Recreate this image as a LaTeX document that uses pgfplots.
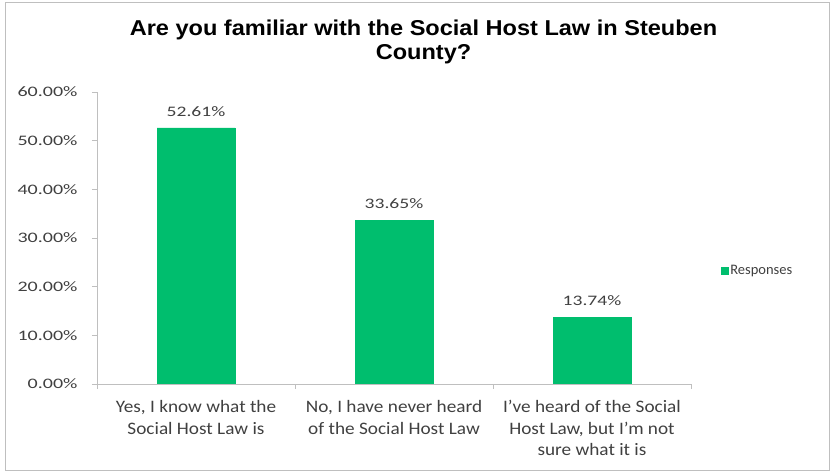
\documentclass[border=0pt]{standalone}
\usepackage{pgfplots}
\pgfplotsset{compat=1.18}
\usepackage{fontspec}
\setmainfont{Carlito}
\newfontfamily\titlefont{Liberation Sans}
\definecolor{bargreen}{RGB}{0,190,110}
\definecolor{axgray}{RGB}{191,191,191}
\definecolor{txtgray}{RGB}{64,64,64}
\begin{document}
\begin{tikzpicture}[x=1pt,y=1pt]
\useasboundingbox (0,0) rectangle (830,473);
\draw[axgray, line width=1pt] (5.5,2) rectangle (829,470.5);
\node[font=\titlefont\bfseries\fontsize{21.5}{24}\selectfont, align=center, xscale=1.095, transform shape] at (423.5,431) {Are you familiar with the Social Host Law in Steuben\\County?};
\begin{axis}[
  at={(97pt,89pt)}, anchor=south west,
  scale only axis, width=594pt, height=292pt,
  xmin=-0.5, xmax=2.5, ymin=0, ymax=60,
  axis lines*=left,
  axis line style={axgray, line width=0.8pt},
  ytick={0,10,...,60},
  yticklabel={\pgfmathprintnumber[fixed,fixed zerofill,precision=2]{\tick}\%},
  /pgf/number format/assume math mode=true,
  yticklabel style={font=\fontsize{14.5}{16}\selectfont, text=txtgray, xscale=1.38, transform shape, xshift=-7pt},
  xtick={0,1,2},
  xticklabels={{Yes, I know what the\\Social Host Law is},{No, I have never heard\\of the Social Host Law},{I've heard of the Social\\Host Law, but I'm not\\sure what it is}},
  xticklabel style={font=\fontsize{17.5}{21.5}\selectfont, text=txtgray, align=center, yshift=-8pt, xscale=1.1, transform shape},
  minor xtick={-0.5,0.5,1.5,2.5},
  tick align=outside,
  major tick length=5pt, minor tick length=5pt,
  xtick style={/pgfplots/major tick length=0pt},
  tick style={axgray, line width=0.8pt},
  ybar, bar width=78pt, bar shift=0pt,
  nodes near coords={\pgfmathprintnumber[fixed,fixed zerofill,precision=2]{\pgfplotspointmeta}\%},
  nodes near coords style={font=\fontsize{14.5}{16}\selectfont, text=txtgray, yshift=8pt, xscale=1.35, transform shape},
  legend style={at={(1.05,0.387)}, anchor=west, draw=none, font=\fontsize{14.5}{16}\selectfont, text=txtgray, inner xsep=0pt},
]
\addplot[fill=bargreen, draw=bargreen, legend image code/.code={\fill[bargreen] (0pt,-3.5pt) rectangle (7pt,3.5pt);}] coordinates {(0,52.61) (1,33.65) (2,13.74)};
\addlegendentry{Responses}
\end{axis}
\end{tikzpicture}
\end{document}
